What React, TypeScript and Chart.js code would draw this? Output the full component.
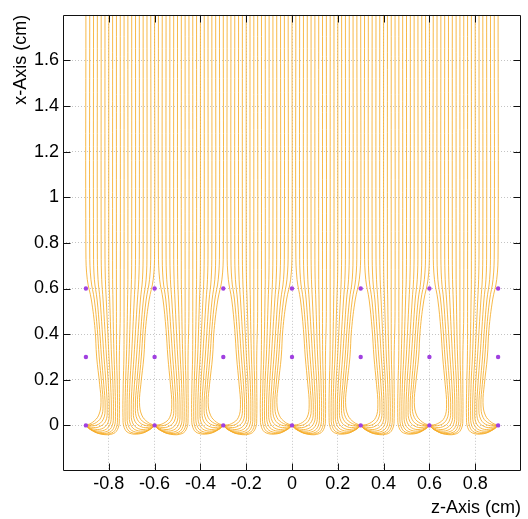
import React, { useEffect, useRef } from "react";
import { Chart, registerables } from "chart.js";

Chart.register(...registerables);

// Sense wires (anode) positions along z, at x = 0, and rows of wires along x
const wireZ = [-0.9, -0.6, -0.3, 0, 0.3, 0.6, 0.9];
const wireRowsX = [0, 0.3, 0.6];

// Axis ticks
const xTickValues = [-0.8, -0.6, -0.4, -0.2, 0, 0.2, 0.4, 0.6, 0.8];
const xTickLabels = ["-0.8", "-0.6", "-0.4", "-0.2", "0", "0.2", "0.4", "0.6", "0.8"];
const yTickValues = [0, 0.2, 0.4, 0.6, 0.8, 1, 1.2, 1.4, 1.6];
const yTickLabels = ["0", "0.2", "0.4", "0.6", "0.8", "1", "1.2", "1.4", "1.6"];

// Drift-line profiles: [z offset from target wire, x]
// one profile per start offset from the wire column (0 ... 0.15 cm)
const profile0 = [[0, 1.8], [0, 0.76], [0.006, 0.64], [0.024, 0.55], [0.04, 0.42], [0.047, 0.3], [0.06, 0.18], [0.066, 0.1], [0.056, 0.045], [0.03, 0.014], [0, 0]];
const profile1 = [[0.0167, 1.8], [0.0167, 0.76], [0.022, 0.64], [0.037, 0.55], [0.05, 0.42], [0.058, 0.3], [0.069, 0.18], [0.075, 0.09], [0.066, 0.035], [0.037, 0.008], [0, 0]];
const profile2 = [[0.0333, 1.8], [0.0333, 0.76], [0.037, 0.64], [0.049, 0.55], [0.06, 0.42], [0.068, 0.3], [0.078, 0.18], [0.084, 0.08], [0.076, 0.027], [0.046, 0.001], [0, 0]];
const profile3 = [[0.05, 1.8], [0.05, 0.76], [0.053, 0.64], [0.062, 0.55], [0.071, 0.42], [0.079, 0.3], [0.088, 0.18], [0.093, 0.07], [0.086, 0.018], [0.056, -0.007], [0.025, -0.008], [0, 0]];
const profile4 = [[0.0667, 1.8], [0.0667, 0.76], [0.069, 0.64], [0.075, 0.55], [0.083, 0.42], [0.09, 0.3], [0.098, 0.18], [0.102, 0.06], [0.096, 0.011], [0.069, -0.015], [0.03, -0.015], [0, 0]];
const profile5 = [[0.0833, 1.8], [0.0833, 0.76], [0.085, 0.64], [0.089, 0.55], [0.095, 0.42], [0.101, 0.3], [0.108, 0.18], [0.111, 0.05], [0.105, 0.004], [0.081, -0.021], [0.04, -0.023], [0.012, -0.01], [0, 0]];
const profile6 = [[0.1, 1.8], [0.1, 0.76], [0.101, 0.64], [0.104, 0.55], [0.108, 0.42], [0.112, 0.3], [0.118, 0.18], [0.12, 0.045], [0.115, -0.001], [0.093, -0.026], [0.05, -0.029], [0.015, -0.013], [0, 0]];
const profile7 = [[0.1167, 1.8], [0.1167, 0.64], [0.118, 0.55], [0.12, 0.42], [0.123, 0.3], [0.127, 0.18], [0.129, 0.04], [0.124, -0.005], [0.104, -0.03], [0.058, -0.034], [0.018, -0.016], [0, 0]];
const profile8 = [[0.1333, 1.8], [0.1333, 0.5], [0.134, 0.3], [0.137, 0.18], [0.138, 0.035], [0.133, -0.009], [0.113, -0.033], [0.065, -0.037], [0.02, -0.018], [0, 0]];
const profile9 = [[0.15, 1.8], [0.15, 0.5], [0.146, 0.3], [0.146, 0.18], [0.146, 0.03], [0.141, -0.011], [0.12, -0.036], [0.07, -0.039], [0.022, -0.02], [0, 0]];
const profiles = [profile0, profile1, profile2, profile3, profile4, profile5, profile6, profile7, profile8, profile9];

const LINE_COLOR = "rgb(245,172,40)";
const WIRE_COLOR = "#a040e0";
const FONT = "'Liberation Sans', Arial, Helvetica, sans-serif";

function buildDriftLines() {
  const lines: { x: number; y: number }[][] = [];
  const last = wireZ.length - 1;
  wireZ.forEach((zw, i) => {
    // lines reaching the wire from its right-hand side (incl. the cell's middle line)
    if (i < last) {
      const startK = i === 0 ? 0 : 1;
      for (let k = startK; k < profiles.length; k++) {
        lines.push(profiles[k].map(([dz, x]) => ({ x: zw + dz, y: x })));
      }
    }
    // lines reaching the wire from its left-hand side
    if (i > 0) {
      for (let k = 0; k < profiles.length - 1; k++) {
        lines.push(profiles[k].map(([dz, x]) => ({ x: zw - dz, y: x })));
      }
    }
  });
  return lines;
}

const framePlugin = {
  id: "rootFrame",
  afterDatasetsDraw(chart: any) {
    const { ctx, chartArea } = chart;
    const xs = chart.scales.x;
    const ys = chart.scales.y;
    const l = Math.round(chartArea.left) + 0.5;
    const r = Math.round(chartArea.right) - 0.5;
    const t = Math.round(chartArea.top) + 0.5;
    const b = Math.round(chartArea.bottom) - 0.5;
    const tl = 7;
    ctx.save();
    ctx.strokeStyle = "#111";
    ctx.lineWidth = 1;
    ctx.beginPath();
    ctx.rect(l, t, r - l, b - t);
    xTickValues.forEach((v) => {
      const px = Math.round(xs.getPixelForValue(v)) + 0.5;
      ctx.moveTo(px, b);
      ctx.lineTo(px, b - tl);
      ctx.moveTo(px, t);
      ctx.lineTo(px, t + tl);
    });
    yTickValues.forEach((v) => {
      const py = Math.round(ys.getPixelForValue(v)) + 0.5;
      ctx.moveTo(l, py);
      ctx.lineTo(l + tl, py);
      ctx.moveTo(r, py);
      ctx.lineTo(r - tl, py);
    });
    ctx.stroke();
    ctx.restore();
  },
};

export default function App() {
  const canvasRef = useRef<HTMLCanvasElement | null>(null);

  useEffect(() => {
    if (!canvasRef.current) return;
    const driftLines = buildDriftLines();
    const wirePoints: { x: number; y: number }[] = [];
    wireRowsX.forEach((x) => wireZ.forEach((z) => wirePoints.push({ x: z, y: x })));

    const datasets: any[] = [
      {
        type: "scatter",
        data: wirePoints,
        pointRadius: 2.2,
        pointBackgroundColor: WIRE_COLOR,
        pointBorderWidth: 0,
        showLine: false,
        order: 0,
      },
      ...driftLines.map((pts) => ({
        type: "line",
        data: pts,
        borderColor: LINE_COLOR,
        borderWidth: 0.85,
        pointRadius: 0,
        tension: 0.4,
        fill: false,
        order: 1,
      })),
    ];

    const chart = new Chart(canvasRef.current, {
      type: "scatter",
      data: { datasets },
      options: {
        animation: false,
        responsive: true,
        maintainAspectRatio: false,
        events: [],
        layout: { padding: { top: 8, right: 7, left: 0, bottom: 0 } },
        plugins: { legend: { display: false }, tooltip: { enabled: false } },
        scales: {
          x: {
            type: "linear",
            min: -1,
            max: 1,
            afterBuildTicks: (scale: any) => {
              scale.ticks = xTickValues.map((v) => ({ value: v }));
            },
            afterFit: (scale: any) => {
              scale.height = 48;
            },
            ticks: {
              autoSkip: false,
              maxRotation: 0,
              padding: 2,
              color: "#000",
              font: { family: FONT, size: 18 },
              callback: (_v: any, i: number) => xTickLabels[i],
            },
            grid: { color: "#c4c4c4", lineWidth: 1, drawTicks: false },
            border: { display: false, dash: [1, 2] },
            title: {
              display: true,
              text: "z-Axis (cm)",
              align: "end",
              color: "#000",
              font: { family: FONT, size: 18 },
              padding: { top: 0, bottom: 0 },
            },
          },
          y: {
            type: "linear",
            min: -0.2,
            max: 1.8,
            afterBuildTicks: (scale: any) => {
              scale.ticks = yTickValues.map((v) => ({ value: v }));
            },
            afterFit: (scale: any) => {
              scale.width = 63;
            },
            ticks: {
              autoSkip: false,
              padding: 4,
              color: "#000",
              font: { family: FONT, size: 18 },
              callback: (_v: any, i: number) => yTickLabels[i],
            },
            grid: { color: "#c4c4c4", lineWidth: 1, drawTicks: false },
            border: { display: false, dash: [1, 2] },
            title: {
              display: true,
              text: "x-Axis (cm)",
              align: "end",
              color: "#000",
              font: { family: FONT, size: 18 },
              padding: { top: 10, bottom: 0 },
            },
          },
        },
      } as any,
      plugins: [framePlugin],
    });
    return () => chart.destroy();
  }, []);

  return (
    <div style={{ position: "fixed", left: 0, top: 0, width: 528, height: 519, background: "#fff" }}>
      <canvas ref={canvasRef} />
    </div>
  );
}
